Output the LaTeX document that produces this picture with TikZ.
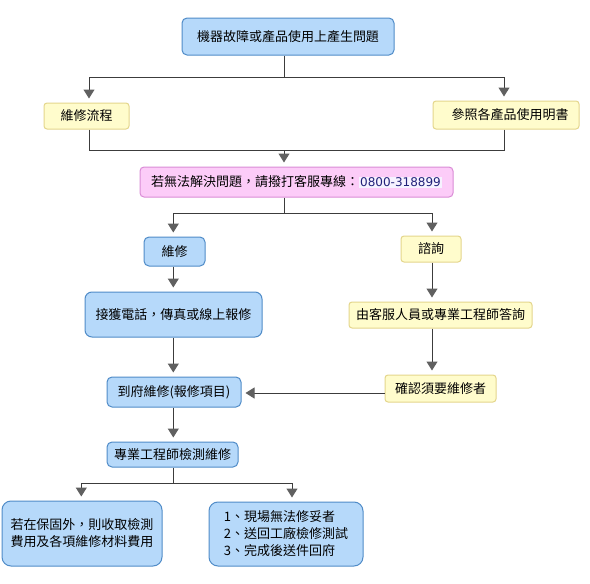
\documentclass[tikz,border=0pt]{standalone}
\usepackage{fontspec}
\setmainfont{Noto Sans CJK TC}
\newfontfamily\numfont{DejaVu Sans}
\usetikzlibrary{arrows.meta}
\definecolor{bfill}{RGB}{182,217,250}
\definecolor{bdraw}{RGB}{80,140,200}
\definecolor{yfill}{RGB}{255,252,204}
\definecolor{ydraw}{RGB}{228,214,140}
\definecolor{pfill}{RGB}{252,204,248}
\definecolor{pdraw}{RGB}{218,140,214}
\definecolor{linec}{RGB}{60,60,60}
\definecolor{arrowc}{RGB}{96,96,96}
\definecolor{numc}{RGB}{34,34,122}
\definecolor{numbg}{RGB}{246,242,255}
\begin{document}
\begin{tikzpicture}[x=1pt,y=-1pt,
  box/.style={draw, line width=1pt, inner sep=0pt, align=center,
    font=\fontsize{13}{17}\selectfont},
  bluebox/.style={box, fill=bfill, draw=bdraw, rounded corners=5pt},
  yellowbox/.style={box, fill=yfill, draw=ydraw, rounded corners=3pt},
  pinkbox/.style={box, fill=pfill, draw=pdraw, rounded corners=4pt},
  line/.style={draw=linec, line width=1pt},
  conn/.style={line, -{Triangle[width=11pt,length=9pt,color=arrowc]}, shorten >=4pt}]
\useasboundingbox (0,0) rectangle (590,584);
\fill[white] (0,0) rectangle (590,584);

% nodes
\node[bluebox, minimum width=212, minimum height=37] (top) at (288,36.5) {機器故障或產品使用上產生問題};
\node[yellowbox, minimum width=85, minimum height=26] (flow) at (86.5,116) {維修流程};
\node[yellowbox, minimum width=146, minimum height=28] (manual) at (506,115) {\hspace{8pt}參照各產品使用明書};
\node[pinkbox, minimum width=313, minimum height=30] (hotline) at (296.5,182)
  {若無法解決問題，請撥打客服專線：{\setlength\fboxsep{1pt}\colorbox{numbg}{\numfont\fontsize{12}{14}\selectfont\color{numc}0800-318899}}};
\node[bluebox, minimum width=61, minimum height=29] (fix) at (174.5,251.5) {維修};
\node[yellowbox, minimum width=60, minimum height=26] (consult) at (431,249) {諮詢};
\node[bluebox, rounded corners=7pt, minimum width=177, minimum height=45] (call) at (173.5,314.5) {接獲電話，傳真或線上報修};
\node[yellowbox, minimum width=183, minimum height=26] (answer) at (440.5,315) {由客服人員或專業工程師答詢};
\node[bluebox, minimum width=134, minimum height=30] (onsite) at (174,392) {到府維修(報修項目)};
\node[yellowbox, minimum width=111, minimum height=27] (confirm) at (440.5,388.5) {確認須要維修者};
\node[bluebox, minimum width=131, minimum height=25] (eng) at (172.5,454.5) {專業工程師檢測維修};
\node[bluebox, rounded corners=9pt, minimum width=160, minimum height=65, align=left] (fee) at (82,533.5)
  {若在保固外，則收取檢測\\費用及各項維修材料費用};
\node[bluebox, rounded corners=9pt, minimum width=154, minimum height=64, align=left] (steps) at (286,534)
  {1、現場無法修妥者\\2、送回工廠檢修測試\\3、完成後送件回府};

% junction coordinates
\coordinate (j1) at (284,77);
\coordinate (j2) at (284,150);
\coordinate (j3) at (284,213);
\coordinate (cl) at (173.3,0);
\coordinate (cr) at (432,0);
\coordinate (j4) at (173.3,483);

% connectors
\draw[line] (top.south -| j1) -- (j1);
\draw[conn] (j1) -| ([xshift=2.5pt]flow.north);
\draw[conn] (j1) -| ([xshift=-2pt]manual.north);

\draw[line] ([xshift=2.5pt]flow.south) |- (j2);
\draw[line] ([xshift=-2pt]manual.south) |- (j2);
\draw[conn] (j2) -- (j2 |- hotline.north);

\draw[line] (hotline.south -| j3) -- (j3);
\draw[conn] (j3) -| (cl |- fix.north);
\draw[conn] (j3) -| (cr |- consult.north);

\draw[conn] (cl |- fix.south) -- (cl |- call.north);
\draw[conn] (cl |- call.south) -- (cl |- onsite.north);
\draw[conn] (cl |- onsite.south) -- (cl |- eng.north);

\draw[conn] (cr |- consult.south) -- (cr |- answer.north);
\draw[conn] (cr |- answer.south) -- (cr |- confirm.north);
\draw[conn] ([yshift=-1pt]confirm.west |- onsite.east) -- ([yshift=-1pt]onsite.east);

\draw[line] (cl |- eng.south) -- (j4);
\draw[conn] (j4) -| ([xshift=-0.7pt]fee.north);
\draw[conn] (j4) -| ([xshift=6pt]steps.north);
\end{tikzpicture}
\end{document}
